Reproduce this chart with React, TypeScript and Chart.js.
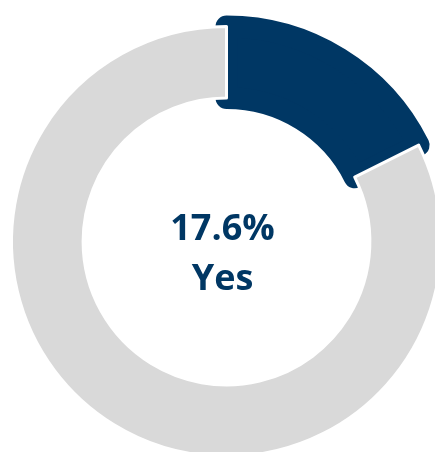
import React, { useEffect, useRef } from "react";
import { Chart, registerables } from "chart.js";

Chart.register(...registerables);

const categories = ["Yes", "No"];
const values = [17.6, 82.4];
const sliceColors = ["#003764", "#d9d9d9"];
const centerValue = "17.6%";
const centerLabel = "Yes";

const centerTextPlugin = {
  id: "centerText",
  afterDraw(chart: any) {
    const { ctx, chartArea } = chart;
    const cx = (chartArea.left + chartArea.right) / 2 - 4;
    const cy = (chartArea.top + chartArea.bottom) / 2;
    ctx.save();
    ctx.fillStyle = "#003764";
    ctx.textAlign = "center";
    ctx.textBaseline = "middle";
    ctx.font = "bold 36px 'Open Sans'";
    ctx.fillText(centerValue, cx, cy - 12);
    ctx.fillText(centerLabel, cx, cy + 38);
    ctx.restore();
  },
};

export default function App() {
  const ref = useRef<HTMLCanvasElement>(null);
  useEffect(() => {
    if (!ref.current) return;
    const chart = new Chart(ref.current, {
      type: "doughnut",
      data: {
        labels: categories,
        datasets: [
          {
            data: values,
            backgroundColor: sliceColors,
            borderColor: ["#003764", "#ffffff"],
            borderWidth: [22, 3],
            borderJoinStyle: "round",
          } as any,
        ],
      },
      options: {
        responsive: false,
        animation: false,
        events: [],
        radius: 215,
        cutout: "66.7%",
        plugins: {
          legend: { display: false },
          tooltip: { enabled: false },
        },
        layout: { padding: 0 },
      } as any,
      plugins: [centerTextPlugin],
    });
    return () => chart.destroy();
  }, []);
  return (
    <div style={{ position: "fixed", left: 0, top: 0, width: 453, height: 483 }}>
      <canvas ref={ref} width={453} height={483} style={{ width: 453, height: 483 }} />
    </div>
  );
}
